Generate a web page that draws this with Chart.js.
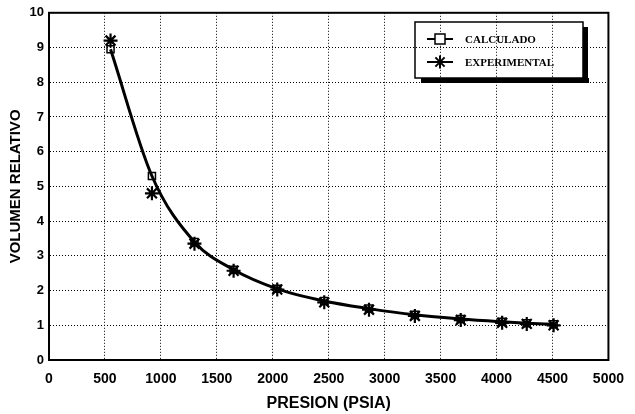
<!DOCTYPE html>
<html>
<head>
<meta charset="utf-8">
<script src="https://cdn.jsdelivr.net/npm/chart.js@4/dist/chart.umd.min.js"></script>
<style>
html,body{margin:0;padding:0;background:#fff;}
#wrap{width:635px;height:414px;}
</style>
</head>
<body>
<div id="wrap"><canvas id="c" width="635" height="414"></canvas></div>
<script>
// Data
const presionExp = [550, 920, 1300, 1650, 2040, 2460, 2860, 3270, 3680, 4050, 4270, 4510];
const volumenExp = [9.2, 4.8, 3.35, 2.57, 2.03, 1.66, 1.45, 1.27, 1.15, 1.07, 1.04, 1.0];
const presionCalc = [550, 920, 1300, 1650, 2040, 2460, 2860, 3270, 3680, 4050, 4270, 4510];
const volumenCalc = [8.95, 5.3, 3.4, 2.6, 2.05, 1.7, 1.48, 1.3, 1.18, 1.1, 1.06, 1.03];
const xTicks = [0, 500, 1000, 1500, 2000, 2500, 3000, 3500, 4000, 4500, 5000];
const yTicks = [0, 1, 2, 3, 4, 5, 6, 7, 8, 9, 10];
const seriesNames = ['CALCULADO', 'EXPERIMENTAL'];
const xTitle = 'PRESION (PSIA)';
const yTitle = 'VOLUMEN RELATIVO';

const toPts = (xs, ys) => xs.map((x, i) => ({x: x, y: ys[i]}));

const framePlugin = {
  id: 'frame',
  afterDatasetsDraw(chart) {
    const {ctx, chartArea: a} = chart;
    ctx.save();
    ctx.strokeStyle = '#000';
    ctx.lineWidth = 2;
    ctx.strokeRect(a.left, a.top, a.right - a.left, a.bottom - a.top);
    // legend box with shadow
    const bx = 415, by = 22, bw = 168, bh = 56;
    ctx.fillStyle = '#000';
    ctx.fillRect(bx + 6, by + bh, bw, 5);
    ctx.fillRect(bx + bw, by + 5, 5, bh);
    ctx.lineWidth = 1.5;
    ctx.strokeRect(bx, by, bw, bh);
    // entry 1: line + square
    ctx.lineWidth = 2;
    ctx.beginPath(); ctx.moveTo(427, 39); ctx.lineTo(453, 39); ctx.stroke();
    ctx.fillStyle = '#fff';
    ctx.fillRect(435, 34, 10, 10);
    ctx.lineWidth = 1.5;
    ctx.strokeRect(435, 34, 10, 10);
    // entry 2: line + asterisk
    ctx.lineWidth = 2;
    ctx.beginPath(); ctx.moveTo(427, 62); ctx.lineTo(453, 62); ctx.stroke();
    const cx = 440, cy = 62, r = 6.5;
    ctx.beginPath();
    for (let k = 0; k < 4; k++) {
      const ang = k * Math.PI / 4;
      ctx.moveTo(cx - r * Math.cos(ang), cy - r * Math.sin(ang));
      ctx.lineTo(cx + r * Math.cos(ang), cy + r * Math.sin(ang));
    }
    ctx.stroke();
    ctx.fillStyle = '#000';
    ctx.font = 'bold 11px "Liberation Serif", serif';
    ctx.textBaseline = 'middle';
    ctx.textAlign = 'left';
    ctx.fillText(seriesNames[0], 465, 40);
    ctx.fillText(seriesNames[1], 465, 63);
    ctx.restore();
  }
};

const gridCfg = {color: '#000', lineWidth: 1, drawTicks: false};
const borderCfg = {display: true, color: '#000', width: 2, dash: [1, 2]};

new Chart(document.getElementById('c'), {
  type: 'scatter',
  data: {
    datasets: [
      {
        label: seriesNames[0],
        data: toPts(presionCalc, volumenCalc),
        showLine: true,
        cubicInterpolationMode: 'monotone',
        borderColor: '#000',
        borderWidth: 3,
        pointStyle: 'rect',
        pointRadius: 5,
        pointBorderWidth: 1.5,
        pointBorderColor: '#000',
        pointBackgroundColor: 'rgba(255,255,255,0)',
        order: 2
      },
      {
        label: seriesNames[1],
        data: toPts(presionExp, volumenExp),
        showLine: false,
        pointStyle: 'star',
        pointRadius: 7,
        pointBorderWidth: 2.2,
        pointBorderColor: '#000',
        pointBackgroundColor: '#000',
        order: 1
      }
    ]
  },
  options: {
    responsive: false,
    animation: false,
    layout: {padding: {left: 0, top: 10, right: 20, bottom: 0}},
    plugins: {legend: {display: false}, tooltip: {enabled: false}},
    scales: {
      x: {
        type: 'linear', min: 0, max: 5000,
        afterBuildTicks: s => { s.ticks = xTicks.map(v => ({value: v})); },
        afterFit: s => { s.height = 54; },
        grid: gridCfg,
        border: borderCfg,
        ticks: {color: '#000', padding: 11, callback: v => String(v),
          font: {family: '"Liberation Sans", Arial, sans-serif', size: 14, weight: 'bold'}},
        title: {display: true, text: xTitle, color: '#000', padding: {top: 0, bottom: 1},
          font: {family: '"Liberation Sans", Arial, sans-serif', size: 16, weight: 'bold'}}
      },
      y: {
        type: 'linear', min: 0, max: 10,
        afterBuildTicks: s => { s.ticks = yTicks.map(v => ({value: v})); },
        afterFit: s => { s.width = 49; },
        grid: gridCfg,
        border: borderCfg,
        ticks: {color: '#000', padding: 5, callback: v => String(v),
          font: {family: '"Liberation Sans", Arial, sans-serif', size: 13, weight: 'bold'}},
        title: {display: true, text: yTitle, color: '#000', padding: {top: 7, bottom: 0},
          font: {family: '"Liberation Sans", Arial, sans-serif', size: 15, weight: 'bold'}}
      }
    }
  },
  plugins: [framePlugin]
});
</script>
</body>
</html>
